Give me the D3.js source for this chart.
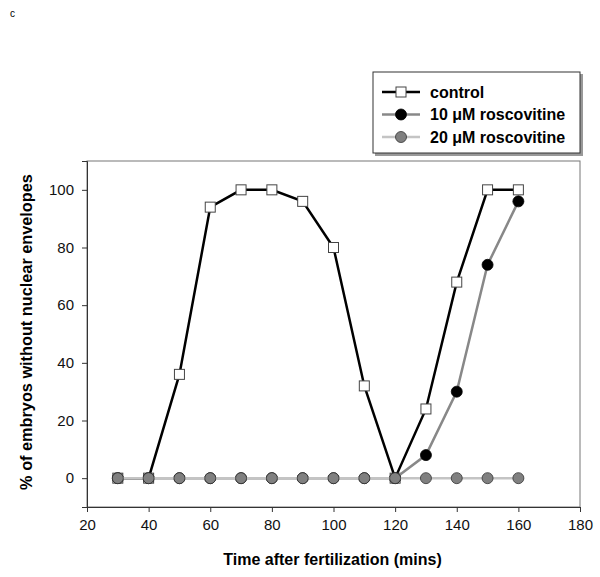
<!DOCTYPE html>
<html><head><meta charset="utf-8">
<script src="https://cdn.jsdelivr.net/npm/d3@7"></script>
<style>body{margin:0;background:#fff}svg{display:block}text{font-family:"Liberation Sans",Arial,sans-serif}</style>
</head><body><svg id="c" width="600" height="577"></svg>
<script>
const times = [30,40,50,60,70,80,90,100,110,120,130,140,150,160];
const control = [0,0,36,94,100,100,96,80,32,0,24,68,100,100];
const rosc10 = [0,0,0,0,0,0,0,0,0,0,8,30,74,96];
const rosc20 = [0,0,0,0,0,0,0,0,0,0,0,0,0,0];
const xTicks = [20,40,60,80,100,120,140,160,180];
const yTicks = [0,20,40,60,80,100];
const seriesNames = ["control","10 \u03BCM roscovitine","20 \u03BCM roscovitine"];

const svg = d3.select("#c");
const L=87,R=580,T=161,B=507;
const x = d3.scaleLinear().domain([20,180]).range([L,R]);
const y = d3.scaleLinear().domain([-10,110]).range([B,T]);

svg.append("text").attr("x",10).attr("y",17).attr("font-size",10).text("c");

// frame
svg.append("rect").attr("x",L).attr("y",T).attr("width",R-L).attr("height",B-T)
  .attr("fill","none").attr("stroke","#777").attr("stroke-width",1);

const xa = svg.append("g").attr("transform",`translate(0,${B})`)
  .call(d3.axisBottom(x).tickValues(xTicks).tickSize(5).tickPadding(7).tickFormat(d3.format("d")));
const ya = svg.append("g").attr("transform",`translate(${L},0)`)
  .call(d3.axisLeft(y).tickValues(yTicks).tickSize(5).tickPadding(8).tickFormat(d3.format("d")));
[xa,ya].forEach(a=>{a.selectAll("path").attr("stroke","#333");a.selectAll("line").attr("stroke","#333");
  a.selectAll("text").attr("font-size",15).attr("fill","#111").attr("font-family","'Liberation Sans',Arial,sans-serif");});

svg.append("text").attr("x",(L+R)/2-1).attr("y",565).attr("text-anchor","middle")
  .attr("font-size",16).attr("font-weight","bold").text("Time after fertilization (mins)");
svg.append("text").attr("transform",`translate(32,332) rotate(-90)`).attr("text-anchor","middle")
  .attr("font-size",16.3).attr("font-weight","bold").text("% of embryos without nuclear envelopes");

const line = d3.line().x(d=>x(d[0])).y(d=>y(d[1]));
const styles = [
  {vals:control, stroke:"#000", shape:"square", fill:"#fff", mstroke:"#444"},
  {vals:rosc10, stroke:"#888", shape:"circle", fill:"#000", mstroke:"#000"},
  {vals:rosc20, stroke:"#c4c4c4", shape:"circle", fill:"#808080", mstroke:"#333"}
];
function marker(g, s, cx, cy){
  if(s.shape==="square") g.append("rect").attr("x",cx-5).attr("y",cy-5).attr("width",10).attr("height",10)
     .attr("fill",s.fill).attr("stroke",s.mstroke).attr("stroke-width",1);
  else g.append("circle").attr("cx",cx).attr("cy",cy).attr("r",5.5).attr("fill",s.fill).attr("stroke",s.mstroke).attr("stroke-width",0.8);
}
styles.forEach(s=>{
  const pts = times.map((t,i)=>[t,s.vals[i]]);
  const g = svg.append("g");
  g.append("path").datum(pts).attr("d",line).attr("fill","none").attr("stroke",s.stroke).attr("stroke-width",2.5);
  pts.forEach(p=>marker(g,s,x(p[0]),y(p[1])));
});

// legend
svg.append("rect").attr("x",375).attr("y",74).attr("width",208).attr("height",82).attr("fill","#999");
svg.append("rect").attr("x",373).attr("y",72).attr("width",207).attr("height",81).attr("fill","#fff").attr("stroke","#333");
styles.forEach((s,i)=>{
  const ly = 92 + i*22.5;
  svg.append("line").attr("x1",382).attr("x2",420).attr("y1",ly).attr("y2",ly).attr("stroke",s.stroke).attr("stroke-width",2.5);
  marker(svg,s,401,ly);
  svg.append("text").attr("x",430).attr("y",ly+5.5).attr("font-size",16).attr("font-weight","bold").text(seriesNames[i]);
});
</script></body></html>
